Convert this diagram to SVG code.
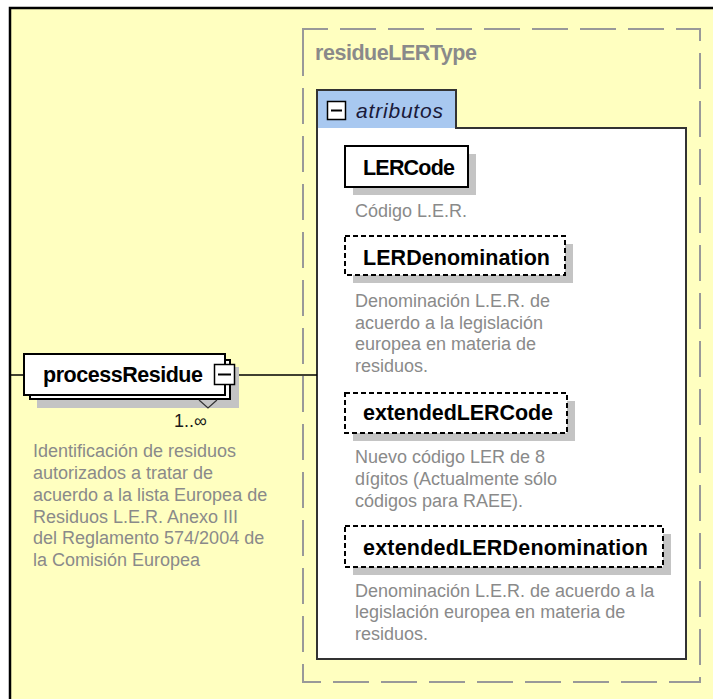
<svg xmlns="http://www.w3.org/2000/svg" width="713" height="699" viewBox="0 0 713 699">
<defs>
<style>
.lbl{font-family:"Liberation Sans",Arial,sans-serif;font-weight:bold;font-size:21.5px;fill:#000}
.desc{font-family:"Liberation Sans",Arial,sans-serif;font-size:18px;fill:#8a8a8a}
.box{fill:#fff;stroke:#000;stroke-width:2}
.opt{fill:#fff;stroke:#000;stroke-width:2;stroke-dasharray:5 3}
.shadow{fill:#c4c4c4}
.conn{stroke:#000;stroke-width:1.5;fill:none}
</style>
</defs>
<rect x="0" y="0" width="713" height="699" fill="#fff"/>
<rect x="10" y="8" width="720" height="720" fill="#ffffc0" stroke="#000" stroke-width="2.5"/>

<g id="residueLERType">
<path d="M303,40 V29 H700 V682 H303 Z" fill="none" stroke="#999" stroke-width="2" stroke-dasharray="36 12"/>
<text x="315" y="60" class="lbl" style="fill:#8a8a8a" textLength="162">residueLERType</text>
</g>

<g id="atributos">
<path d="M317,659 V90 H456 V128 H686 V659 Z" fill="#fff" stroke="#333" stroke-width="2"/>
<rect x="318" y="91" width="137" height="37" fill="#a8c8f0"/>
<rect x="327.5" y="101.5" width="18" height="18" fill="#fff" stroke="#000" stroke-width="1.5"/>
<line x1="331" y1="110.5" x2="342" y2="110.5" stroke="#000" stroke-width="2"/>
<text x="356" y="118" font-family="'Liberation Sans',Arial,sans-serif" font-style="italic" font-size="21" fill="#1a1a3a" textLength="87">atributos</text>
</g>

<g id="connectors">
<line class="conn" x1="10" y1="375" x2="24" y2="375"/>
<line class="conn" x1="235" y1="375" x2="317" y2="375"/>
</g>

<g id="processResidue">
<rect class="shadow" x="37" y="367" width="202" height="41"/>
<rect class="box" x="30" y="360" width="200" height="39" stroke-width="1.5"/>
<rect class="box" x="24" y="354" width="201" height="41" stroke-width="1.5"/>
<rect x="214.5" y="364.5" width="20" height="20" fill="#fff" stroke="#000" stroke-width="1.5"/>
<line x1="218" y1="374.5" x2="231" y2="374.5" stroke="#000" stroke-width="2"/>
<polyline points="199,400 208,408 217,400" fill="none" stroke="#333" stroke-width="1.2"/>
<text x="43" y="382" class="lbl" textLength="160">processResidue</text>
<text x="174" y="427" font-family="'Liberation Sans',Arial,sans-serif" font-size="18" fill="#1a1a1a">1..∞</text>
<text class="desc" x="33" y="457">Identificación de residuos</text>
<text class="desc" x="33" y="479">autorizados a tratar de</text>
<text class="desc" x="33" y="501">acuerdo a la lista Europea de</text>
<text class="desc" x="33" y="523">Residuos L.E.R. Anexo III</text>
<text class="desc" x="33" y="544">del Reglamento 574/2004 de</text>
<text class="desc" x="33" y="566">la Comisión Europea</text>
</g>

<g id="LERCode">
<rect class="shadow" x="353" y="154" width="123" height="41"/>
<rect class="box" x="345" y="146" width="123" height="41"/>
<text x="363" y="175" class="lbl" textLength="92">LERCode</text>
<text class="desc" x="355" y="217">Código L.E.R.</text>
</g>

<g id="LERDenomination">
<rect class="shadow" x="353" y="244" width="220" height="39"/>
<rect class="opt" x="345" y="236" width="220" height="39"/>
<text x="363" y="265" class="lbl" textLength="187">LERDenomination</text>
<text class="desc" x="355" y="307">Denominación L.E.R. de</text>
<text class="desc" x="355" y="329">acuerdo a la legislación</text>
<text class="desc" x="355" y="350">europea en materia de</text>
<text class="desc" x="355" y="372">residuos.</text>
</g>

<g id="extendedLERCode">
<rect class="shadow" x="353" y="401" width="222" height="40"/>
<rect class="opt" x="345" y="393" width="222" height="40"/>
<text x="363" y="420" class="lbl" textLength="190">extendedLERCode</text>
<text class="desc" x="355" y="463">Nuevo código LER de 8</text>
<text class="desc" x="355" y="485">dígitos (Actualmente sólo</text>
<text class="desc" x="355" y="507">códigos para RAEE).</text>
</g>

<g id="extendedLERDenomination">
<rect class="shadow" x="353" y="534" width="318" height="41"/>
<rect class="opt" x="345" y="526" width="318" height="41"/>
<text x="363" y="555" class="lbl" textLength="285">extendedLERDenomination</text>
<text class="desc" x="355" y="597">Denominación L.E.R. de acuerdo a la</text>
<text class="desc" x="355" y="618">legislación europea en materia de</text>
<text class="desc" x="355" y="640">residuos.</text>
</g>
</svg>
